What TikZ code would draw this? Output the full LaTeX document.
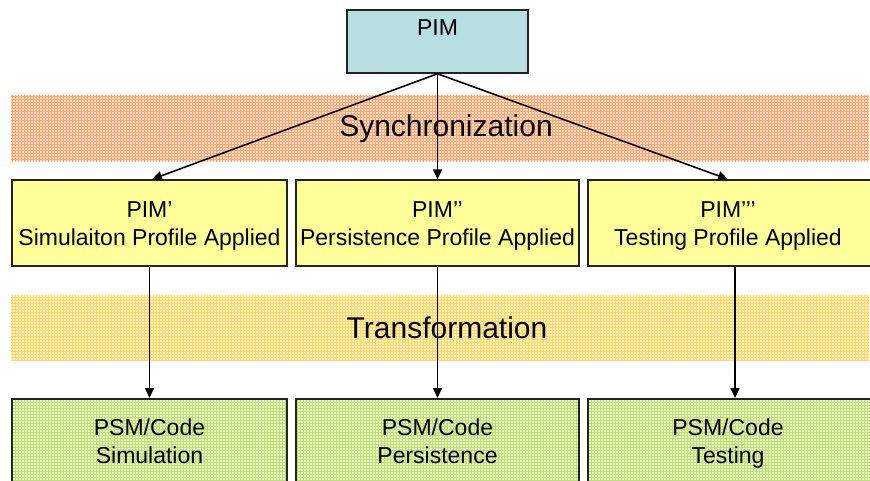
\documentclass[tikz,border=0pt]{standalone}
\usepackage{fontspec}
\setmainfont{Liberation Sans}
\usetikzlibrary{arrows.meta,patterns}
\definecolor{pimblue}{RGB}{183,222,225}
\definecolor{boxyellow}{RGB}{255,255,153}
\definecolor{orbase}{RGB}{253,218,196}
\definecolor{orline}{RGB}{247,168,115}
\definecolor{yebase}{RGB}{255,241,192}
\definecolor{yeline}{RGB}{255,214,105}
\definecolor{grbase}{RGB}{230,242,196}
\definecolor{grline}{RGB}{190,222,118}
\definecolor{edge}{RGB}{35,35,35}
\tikzset{
  x=1pt, y=-1pt,
  boxtext/.style={font=\fontsize{23}{28}\selectfont, align=center, inner sep=0pt},
  bandtext/.style={font=\fontsize{30}{34}\selectfont, inner sep=0pt},
  pimbox/.style={draw=edge, line width=1.5pt, fill=pimblue, rectangle, inner sep=0pt},
  midbox/.style={draw=edge, line width=1.5pt, fill=boxyellow, rectangle, inner sep=0pt, minimum height=86pt},
  botbox/.style={draw=edge, line width=1.5pt, rectangle, inner sep=0pt, minimum height=100pt,
     preaction={fill=grbase}, pattern=grid, pattern color=grline},
  band/.style={rectangle, inner sep=0pt, draw=none, minimum width=858pt, minimum height=66pt},
  arr/.style={line width=1.6pt, -{Triangle[length=10pt,width=9pt]}}
}
\begin{document}
\begin{tikzpicture}
\useasboundingbox (0,0) rectangle (870,480);
\clip (0,0) rectangle (870,480);
% bands
\node[band, preaction={fill=orbase}, pattern=grid, pattern color=orline] (sync) at (440,128) {};
\node[band, preaction={fill=yebase}, pattern=grid, pattern color=yeline, minimum height=65pt] (trans) at (440,327.5) {};
% PIM
\node[pimbox, minimum width=181pt, minimum height=63pt] (pim) at (437.5,41.5) {};
\node[boxtext, anchor=base] (pimt) at (437.5,35) {PIM};
% middle boxes
\node[midbox, minimum width=275pt] (m1) at (149.5,223) {};
\node[boxtext, anchor=base] (m1t) at (149.5,245) {PIM’\\Simulaiton Profile Applied};
\node[midbox, minimum width=283pt] (m2) at (437.5,223) {};
\node[boxtext, anchor=base] (m2t) at (437.5,245) {PIM’’\\Persistence Profile Applied};
\node[midbox, minimum width=294pt] (m3) at (735,223) {};
\node[boxtext, anchor=base] (m3t) at (728,245) {PIM’’’\\Testing Profile Applied};
% bottom boxes
\node[botbox, minimum width=275pt, anchor=north] (b1) at (149.5,398) {};
\node[boxtext, anchor=base] (b1t) at (149.5,463) {PSM/Code\\Simulation};
\node[botbox, minimum width=283pt, anchor=north] (b2) at (437.5,398) {};
\node[boxtext, anchor=base] (b2t) at (437.5,463) {PSM/Code\\Persistence};
\node[botbox, minimum width=294pt, anchor=north] (b3) at (735,398) {};
\node[boxtext, anchor=base] (b3t) at (728,463) {PSM/Code\\Testing};
% arrows
\draw[arr] (pim.south) -- ([xshift=2.5pt]m1.north);
\draw[arr] (pim.south) -- (m2.north);
\draw[arr] (pim.south) -- ([xshift=-7pt]m3.north);
\draw[arr] (m1.south) -- (b1.north);
\draw[arr] (m2.south) -- (b2.north);
\draw[arr] (m3.south) -- (b3.north);
% band labels
\node[bandtext] (synct) at (446,129) {Synchronization};
\node[bandtext] (transt) at (447,328) {Transformation};
\end{tikzpicture}
\end{document}
